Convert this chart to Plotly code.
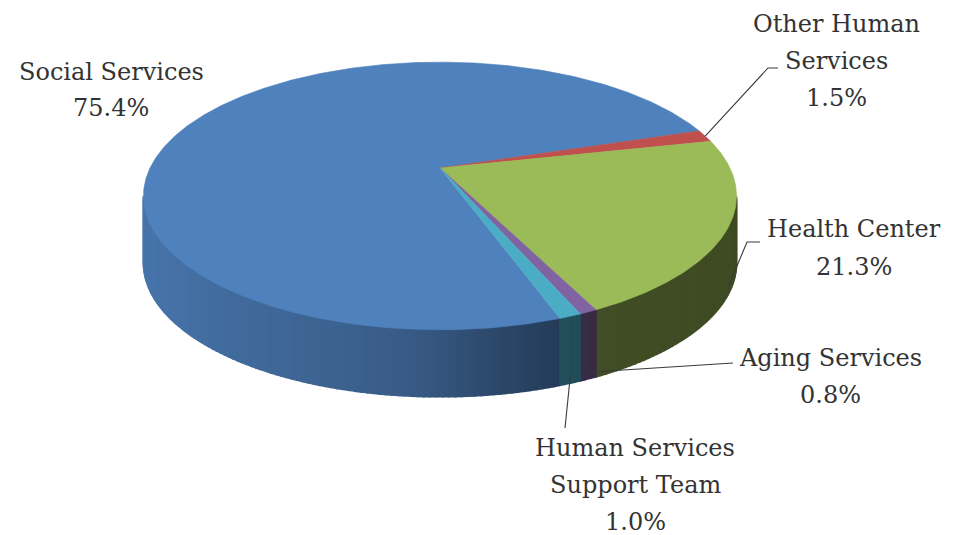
import numpy as np
import plotly.graph_objects as go

# --- data -------------------------------------------------------------
categories = ["Social Services", "Other Human Services", "Health Center",
              "Aging Services", "Human Services Support Team"]
shares = [75.4, 1.5, 21.3, 0.8, 1.0]          # percent of total
label_lines = [["Social Services"], ["Other Human", "Services"], ["Health Center"],
               ["Aging Services"], ["Human Services", "Support Team"]]

# --- styling / geometry ----------------------------------------------
top_colors = ["#4F81BD", "#C0504D", "#9BBB59", "#8064A2", "#4BACC6"]
W, H = 957, 535
CX, CY = 440, 168          # pie apex on screen
RX, RY = 290, 128          # disc radii
PERSP = 0.209              # perspective strength (near side larger)
DEPTH = 67                 # thickness of the disc
START_CW = 160.6           # first slice start, degrees clockwise from 12 o'clock

# label block: centre x, first line y, line gap, leader elbow points
label_layout = [
    dict(x=111, y=72, gap=36, elbow=None),
    dict(x=836, y=24, gap=37, elbow=[(768, 68), (778, 68)]),
    dict(x=854, y=229, gap=38, elbow=[(747, 242), (760, 242)]),
    dict(x=830, y=358, gap=37, elbow=[(725, 363), (733, 363)]),
    dict(x=635, y=448, gap=37, elbow=[(565, 428)]),
]
FONT = dict(family="DejaVu Serif", size=24, color="#333333")

# side-wall lighting: brightness factor against screen x
SHADE_X = [145, 250, 400, 550, 600, 740]
SHADE_F = [0.90, 0.82, 0.72, 0.48, 0.42, 0.40]


def project(theta_deg, drop=0.0):
    t = np.radians(theta_deg)
    u, v = np.cos(t), -np.sin(t)
    w = 1.0 / (1.0 - PERSP * v)
    return CX + RX * u * w, CY + RY * v * w + drop


def shade(hex_color, f):
    h = hex_color.lstrip("#")
    r, g, b = (int(h[i:i + 2], 16) for i in (0, 2, 4))
    return "rgb({},{},{})".format(int(r * f), int(g * f), int(b * f))


def side_factor(x):
    return float(np.interp(x, SHADE_X, SHADE_F))


fig = go.Figure()

# slice angles (math convention, degrees, decreasing = clockwise)
bounds = []
cw = START_CW
for s in shares:
    a0 = 90 - cw
    a1 = 90 - (cw + s * 3.6)
    bounds.append((a0, a1))
    cw += s * 3.6

# visible band of the rim lies between the two silhouette angles
sil = np.degrees(np.arcsin(PERSP))
vis_start, vis_end = -sil, -180 + sil      # theta range [vis_end, vis_start]


def norm(a):
    while a > vis_start + 180:
        a -= 360
    while a <= vis_start - 180:
        a += 360
    return a


# --- side walls (thin strips so the shading can vary along the rim) ---
for (a0, a1), col in zip(bounds, top_colors):
    n = max(int(abs(a0 - a1) / 1.0) + 1, 2)
    angs = np.linspace(a0, a1, n + 1)
    for i in range(len(angs) - 1):
        ta, tb = angs[i], angs[i + 1]
        ma = norm((ta + tb) / 2)
        if not (vis_end <= ma <= vis_start):
            continue
        da = ma - (ta + tb) / 2
        ta2 = min(max(ta + da, vis_end), vis_start)
        tb2 = min(max(tb + da, vis_end), vis_start)
        if abs(ta2 - tb2) < 1e-6:
            continue
        sub = np.linspace(ta2, tb2, 3)
        xt, yt = project(sub)
        xb, yb = project(sub[::-1], DEPTH)
        xs = np.concatenate([xt, xb, xt[:1]])
        ys = np.concatenate([yt, yb, yt[:1]])
        c = shade(col, side_factor(float(np.mean(xt))))
        fig.add_trace(go.Scatter(x=xs, y=ys, mode="lines", fill="toself",
                                 fillcolor=c, line=dict(color=c, width=1.6),
                                 hoverinfo="skip", showlegend=False))

# --- top faces ---
for (a0, a1), col, name, s in zip(bounds, top_colors, categories, shares):
    n = max(int(abs(a0 - a1) / 0.5) + 2, 3)
    angs = np.linspace(a0, a1, n)
    xr, yr = project(angs)
    xs = np.concatenate([[CX], xr, [CX]])
    ys = np.concatenate([[CY], yr, [CY]])
    fig.add_trace(go.Scatter(x=xs, y=ys, mode="lines", fill="toself",
                             fillcolor=col, line=dict(color=col, width=0.6),
                             name=name, hovertemplate=f"{name}: {s:.1f}%<extra></extra>",
                             showlegend=False))

# --- labels and leader lines ---
for (a0, a1), lines, s, lay in zip(bounds, label_lines, shares, label_layout):
    texts = lines + [f"{s:.1f}%"]
    for k, t in enumerate(texts):
        fig.add_annotation(x=lay["x"], y=lay["y"] + k * lay["gap"], text=t,
                           showarrow=False, xanchor="center", yanchor="middle",
                           font=FONT)
    if lay["elbow"]:
        mid = norm((a0 + a1) / 2)
        on_front = vis_end <= mid <= vis_start
        ax, ay = project(mid, DEPTH * 0.9 if on_front else 0)
        px = [float(ax)] + [p[0] for p in lay["elbow"]]
        py = [float(ay)] + [p[1] for p in lay["elbow"]]
        fig.add_trace(go.Scatter(x=px, y=py, mode="lines",
                                 line=dict(color="#3a3a3a", width=1.1),
                                 hoverinfo="skip", showlegend=False))

fig.update_layout(
    width=W, height=H, margin=dict(l=0, r=0, t=0, b=0),
    paper_bgcolor="white", plot_bgcolor="white",
    xaxis=dict(range=[0, W], visible=False, fixedrange=True),
    yaxis=dict(range=[H, 0], visible=False, fixedrange=True),
)

fig.write_html("out.html")
